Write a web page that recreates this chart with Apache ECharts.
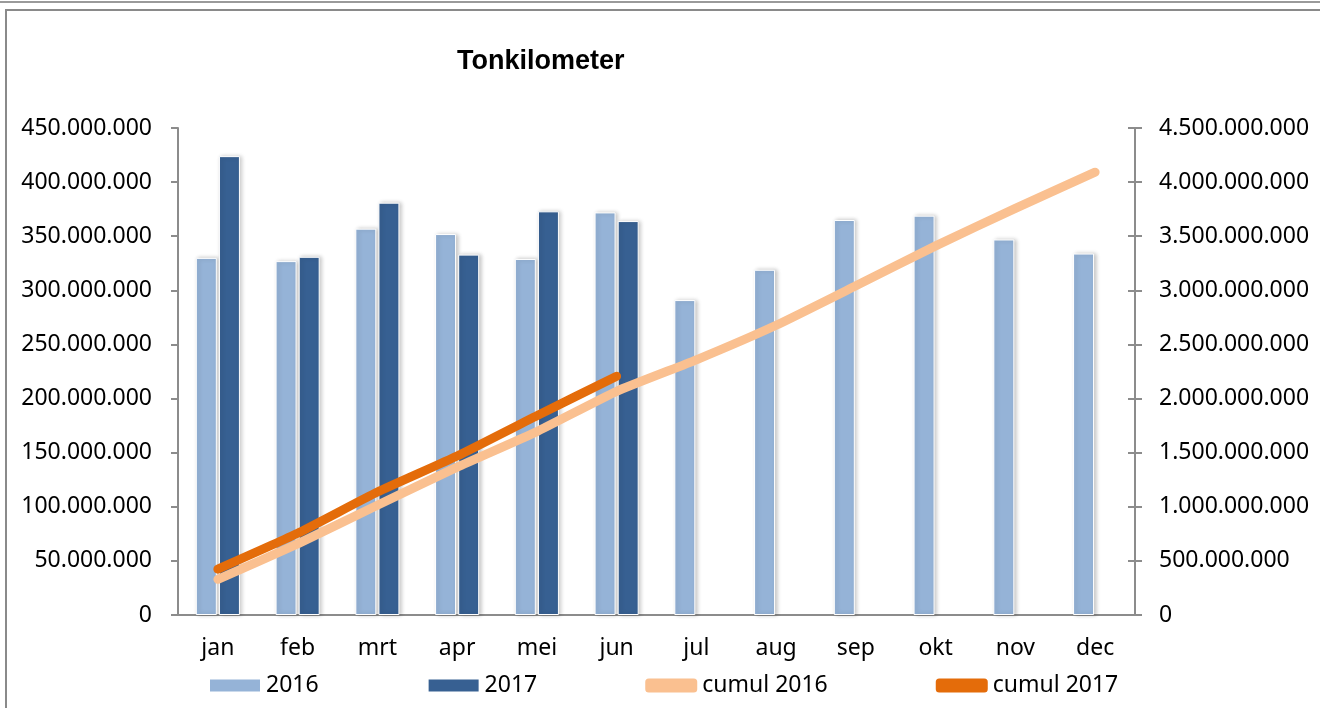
<!DOCTYPE html>
<html>
<head>
<meta charset="utf-8">
<script src="https://cdn.jsdelivr.net/npm/echarts@6/dist/echarts.min.js"></script>
<style>
  html, body { margin: 0; padding: 0; background: #fff; }
  #chart { width: 1320px; height: 708px; }
</style>
</head>
<body>
<div id="chart"></div>
<script>
// data
const months = ['jan', 'feb', 'mrt', 'apr', 'mei', 'jun', 'jul', 'aug', 'sep', 'okt', 'nov', 'dec']
const tkm2016 = [330e6, 327e6, 357e6, 352e6, 329e6, 372e6, 291e6, 319e6, 365e6, 369e6, 347e6, 334e6]
const tkm2017 = [424e6, 331e6, 381e6, 333e6, 373e6, 364e6]
const cumul2016 = [330e6, 657e6, 1014e6, 1366e6, 1695e6, 2067e6, 2358e6, 2677e6, 3042e6, 3411e6, 3758e6, 4092e6]
const cumul2017 = [424e6, 755e6, 1136e6, 1469e6, 1842e6, 2206e6]

const FONT = 'Noto Sans'
const FS = 23
const axisGrey = '#8c8c8c'

// 450000000 -> 450.000.000
const dots = v => String(Math.round(v)).replace(/\B(?=(\d{3})+(?!\d))/g, '.')

const barStyle = color => ({
  color: color,
  borderColor: '#fff',
  borderWidth: 1,
  shadowColor: 'rgba(0,0,0,0.22)',
  shadowBlur: 4,
  shadowOffsetX: 2,
  shadowOffsetY: 0
})

const chart = echarts.init(document.getElementById('chart'))
chart.setOption({
  animation: false,
  backgroundColor: '#fff',
  textStyle: { fontFamily: FONT, color: '#000' },
  title: {
    text: 'Tonkilometer',
    left: 452,
    top: 43,
    textStyle: { fontFamily: 'Liberation Sans', fontWeight: 'bold', fontSize: 27, color: '#000' }
  },
  graphic: [
    { type: 'line', shape: { x1: 0, y1: 2, x2: 1320, y2: 2 }, style: { stroke: '#9a9a9a', lineWidth: 2 }, silent: true },
    { type: 'rect', shape: { x: 6, y: 10, width: 1330, height: 720 }, style: { fill: null, stroke: '#8a8a8a', lineWidth: 2 }, silent: true }
  ],
  legend: {
    left: 203,
    top: 669,
    itemWidth: 52,
    itemHeight: 14,
    itemGap: 108,
    textStyle: { fontFamily: FONT, fontSize: FS, color: '#000' },
    data: [
      { name: '2016', icon: 'rect' },
      { name: '2017', icon: 'rect' },
      { name: 'cumul 2016', icon: 'roundRect', itemStyle: { color: '#FAC090' } },
      { name: 'cumul 2017', icon: 'roundRect', itemStyle: { color: '#E46C0A' } }
    ]
  },
  grid: { left: 178, right: 185, top: 128, bottom: 93 },
  xAxis: {
    type: 'category',
    data: months,
    axisLine: { lineStyle: { color: axisGrey, width: 2 } },
    axisTick: { length: 8, lineStyle: { color: axisGrey, width: 2 } },
    axisLabel: { fontFamily: FONT, fontSize: FS, color: '#000', margin: 22 }
  },
  yAxis: [
    {
      type: 'value', min: 0, max: 450e6, interval: 50e6,
      splitLine: { show: false },
      axisLine: { show: true, lineStyle: { color: axisGrey, width: 2 } },
      axisTick: { show: true, length: 7, lineStyle: { color: axisGrey, width: 2 } },
      axisLabel: { fontFamily: FONT, fontSize: FS, color: '#000', margin: 26, formatter: dots }
    },
    {
      type: 'value', position: 'right', min: 0, max: 4500e6, interval: 500e6,
      splitLine: { show: false },
      axisLine: { show: true, lineStyle: { color: axisGrey, width: 2 } },
      axisTick: { show: true, length: 7, lineStyle: { color: axisGrey, width: 2 } },
      axisLabel: { fontFamily: FONT, fontSize: FS, color: '#000', margin: 24, formatter: dots }
    },
    {
      // inner half of the cross ticks on the right axis
      type: 'value', position: 'right', min: 0, max: 4500e6, interval: 500e6,
      splitLine: { show: false },
      axisLine: { show: false },
      axisTick: { show: true, inside: true, length: 7, lineStyle: { color: axisGrey, width: 2 } },
      axisLabel: { show: false }
    }
  ],
  series: [
    {
      name: '2016', type: 'bar', data: tkm2016,
      barWidth: 21, barGap: '10%',
      itemStyle: barStyle('#95B3D7')
    },
    {
      name: '2017', type: 'bar', data: tkm2017,
      barWidth: 21, barGap: '10%',
      itemStyle: barStyle('#376092')
    },
    {
      name: 'cumul 2016', type: 'line', yAxisIndex: 1, data: cumul2016,
      smooth: 0.15, symbol: 'none',
      lineStyle: { color: '#FAC090', width: 9, cap: 'round', join: 'round' },
      itemStyle: { color: '#FAC090' },
      z: 3
    },
    {
      name: 'cumul 2017', type: 'line', yAxisIndex: 1, data: cumul2017,
      smooth: 0.15, symbol: 'none',
      lineStyle: { color: '#E46C0A', width: 9, cap: 'round', join: 'round' },
      itemStyle: { color: '#E46C0A' },
      z: 4
    }
  ]
})
</script>
</body>
</html>
